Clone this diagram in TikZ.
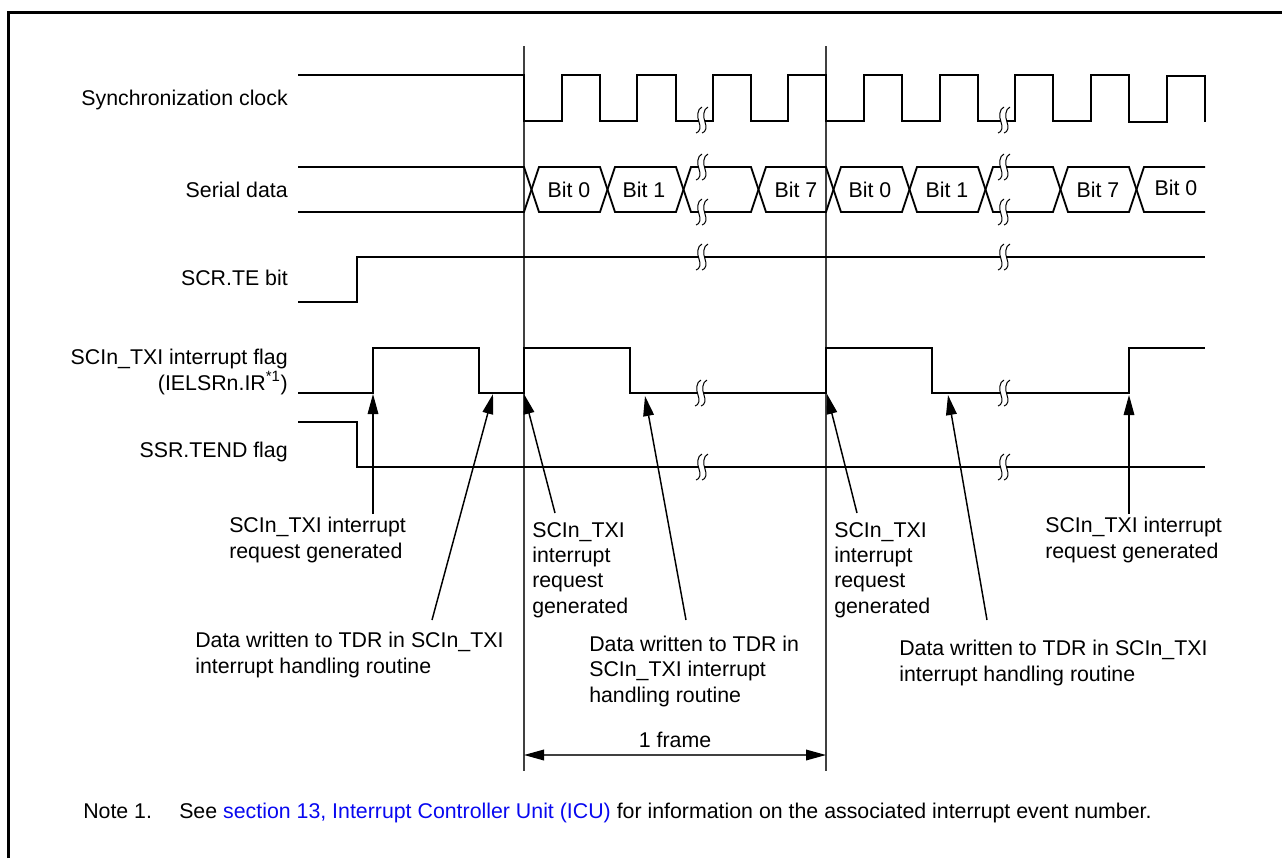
\documentclass[tikz,border=0pt]{standalone}
\usepackage{fontspec}
\setmainfont{Liberation Sans}
\usetikzlibrary{calc, positioning, arrows.meta}
\definecolor{linkblue}{HTML}{0808F0}
\tikzset{
  wave/.style={line width=1.35pt, line join=miter},
  guide/.style={line width=1pt, black!75},
  pointer/.style={line width=1.1pt, -{Triangle[length=15pt,width=8pt]}},
  siglabel/.style={anchor=base east, align=right, inner sep=0pt, font=\fontsize{16}{19.5}\selectfont},
  note/.style={anchor=base west, align=left, inner sep=0pt, font=\fontsize{16}{19}\selectfont},
  bitlabel/.style={anchor=base, inner sep=0pt, font=\fontsize{16}{19}\selectfont},
  brk/.pic={
    \fill[white] (-3,-2) rectangle (3,2);
    \draw[line width=0.75pt] (-6,13) .. controls (-2,12) and (-1,7) .. (-3,2) .. controls (-5,-3) and (-5,-11) .. (0,-13);
    \draw[line width=0.75pt] (0,13) .. controls (4,12) and (5,7) .. (3,2) .. controls (1,-3) and (1,-11) .. (6,-13);
  }
}
\begin{document}
\begin{tikzpicture}[x=0.75pt, y=-0.75pt]
  \useasboundingbox (0,0) rectangle (1282,858);
  % outer frame
  \draw[line width=2.25pt] (8.5,858) -- (8.5,12.5) -- (1282,12.5);

  % frame guides
  \coordinate (fa) at (524,46);
  \coordinate (fb) at (826,46);
  \draw[guide] (fa) -- ++(0,725);
  \draw[guide] (fb) -- ++(0,725);

  % clock
  \draw[wave] (298,75) -- (524,75) -- (524,121) -- (562,121) -- (562,75) -- (600,75) -- (600,121)
    -- (637,121) -- (637,75) -- (676,75) -- (676,121) -- (713,121) -- (713,75) -- (751,75) -- (751,121)
    -- (788,121) -- (788,75) -- (826,75) -- (826,121) -- (864,121) -- (864,75) -- (902,75) -- (902,121)
    -- (940,121) -- (940,75) -- (978,75) -- (978,121) -- (1015,121) -- (1015,75) -- (1053,75) -- (1053,121)
    -- (1091,121) -- (1091,75) -- (1129,75) -- (1129,122) -- (1167,122) -- (1167,76) -- (1205,76) -- (1205,122);
  \pic at (702,120) {brk};
  \pic at (1004,120) {brk};

  % serial data
  \foreach \yy/\zz in {167/212, 212/167} {
    \draw[wave] (298,\yy) -- (524,\yy) -- (539,\zz) -- (600,\zz) -- (615,\yy) -- (676,\yy) -- (691,\zz) -- (751,\zz)
      -- (766,\yy) -- (826,\yy) -- (841,\zz) -- (902,\zz) -- (917,\yy) -- (978,\yy) -- (993,\zz) -- (1053,\zz)
      -- (1068,\yy) -- (1129,\yy) -- (1144,\zz) -- (1205,\zz);
  }
  \foreach \x in {702,1004} {
    \pic at (\x,167) {brk};
    \pic at (\x,212) {brk};
  }
  \foreach \x/\txt in {569/Bit 0, 644/Bit 1, 796/Bit 7, 870/Bit 0, 947/Bit 1, 1098/Bit 7} {
    \node[bitlabel] at (\x,197) {\txt};
  }
  \node[bitlabel] at (1176,195) {Bit 0};

  % SCR.TE
  \draw[wave] (298,302) -- (357,302) -- (357,257) -- (1205,257);
  \pic at (702,257) {brk};
  \pic at (1004,257) {brk};

  % interrupt flag
  \draw[wave] (298,393) -- (373,393) -- (373,348) -- (479,348) -- (479,393) -- (524,393) -- (524,348) -- (630,348) -- (630,393)
    -- (826,393) -- (826,348) -- (932,348) -- (932,393) -- (1129,393) -- (1129,348) -- (1205,348);
  \pic at (701,393) {brk};
  \pic at (1004,393) {brk};

  % TEND flag
  \draw[wave] (298,422) -- (357,422) -- (357,467) -- (1205,467);
  \pic at (702,467) {brk};
  \pic at (1004,467) {brk};

  % signal names
  \node[siglabel] (clk) at (288,105) {Synchronization clock};
  \node[siglabel] (ser) at (288,197) {Serial data};
  \node[siglabel] (te) at (288,285) {SCR.TE bit};
  \node[siglabel] (txi) at (288,390) {SCIn\_TXI interrupt flag\\(IELSRn.IR\textsuperscript{*1})};
  \node[siglabel] (tend) at (288,457) {SSR.TEND flag};

  % event notes
  \node[note] (na) at (229,558) {SCIn\_TXI interrupt\\request generated};
  \node[note] (nb) at (195,673) {Data written to TDR in SCIn\_TXI\\interrupt handling routine};
  \node[note] (nc) at (532,613) {SCIn\_TXI\\interrupt\\request\\generated};
  \node[note] (nd) at (589,702) {Data written to TDR in\\SCIn\_TXI interrupt\\handling routine};
  \node[note] (ne) at (834,613) {SCIn\_TXI\\interrupt\\request\\generated};
  \node[note] (nf) at (899,681) {Data written to TDR in SCIn\_TXI\\interrupt handling routine};
  \node[note] (ng) at (1045,558) {SCIn\_TXI interrupt\\request generated};

  \coordinate (pa) at (373,394);
  \coordinate (pb) at (493,394);
  \coordinate (pc) at (524,394);
  \coordinate (pd) at (645,396);
  \coordinate (pe) at (827,394);
  \coordinate (pf) at (948,395);
  \coordinate (pg) at (1129,395);
  \coordinate (ta) at (373,514);
  \coordinate (tb) at (432,620);
  \coordinate (tc) at (555,513);
  \coordinate (td) at (686,620);
  \coordinate (te) at (857,513);
  \coordinate (tf) at (987,620);
  \coordinate (tg) at (1129,514);
  \draw[pointer, line width=0.8pt] (ta) -- (pa);
  \draw[pointer] (tb) -- (pb);
  \draw[pointer] (tc) -- (pc);
  \draw[pointer] (td) -- (pd);
  \draw[pointer] (te) -- (pe);
  \draw[pointer] (tf) -- (pf);
  \draw[pointer, line width=0.8pt] (tg) -- (pg);

  % frame width
  \coordinate (wa) at (524,755);
  \coordinate (wb) at (826,755);
  \draw[line width=1pt, black!75, {Triangle[length=15pt,width=8pt,black]}-{Triangle[length=15pt,width=8pt,black]}] (wa) -- (wb);
  \node[bitlabel] (fr) at (675,747) {1 frame};

  % footnote
  \node[note] (nt1) at (83,818) {Note 1.};
  \node[note] (nt2) at (179,818) {See \textcolor{linkblue}{section 13, Interrupt Controller Unit (ICU)} for information on the associated interrupt event number.};
\end{tikzpicture}
\end{document}
